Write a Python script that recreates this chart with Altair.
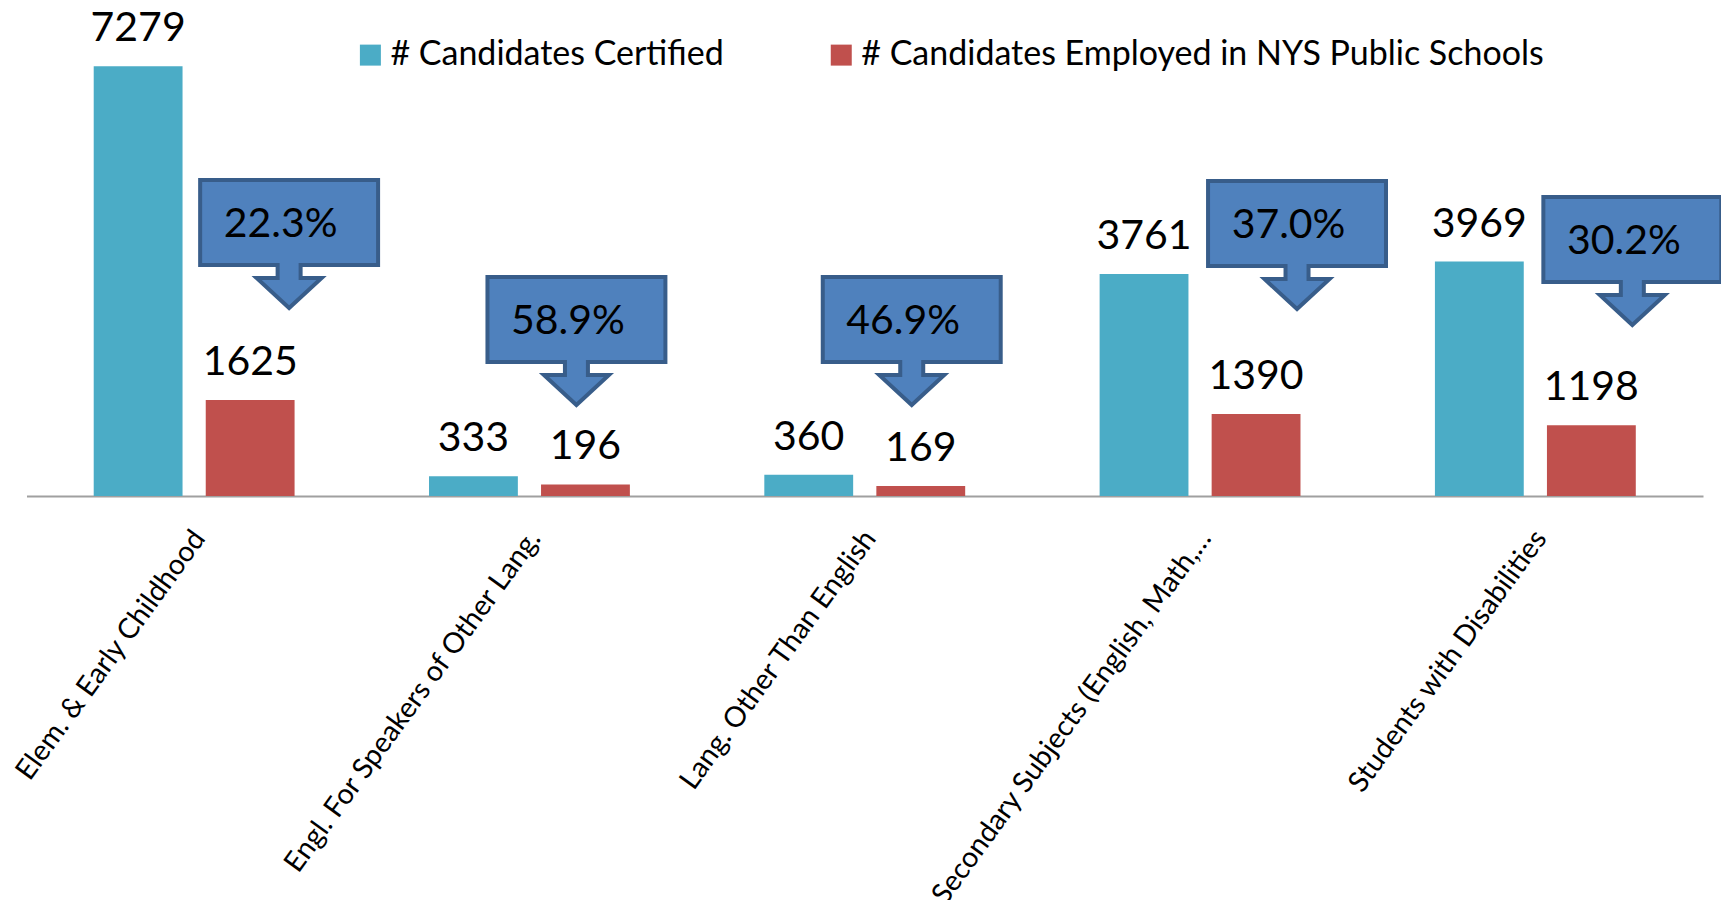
import altair as alt
import pandas as pd

# ---- data ----
categories = [
    "Elem. & Early Childhood",
    "Engl. For Speakers of Other Lang.",
    "Lang. Other Than English",
    "Secondary Subjects (English, Math,…",
    "Students with Disabilities",
]
series = ["# Candidates Certified", "# Candidates Employed in NYS Public Schools"]
certified = [7279, 333, 360, 3761, 3969]
employed = [1625, 196, 169, 1390, 1198]
pct_labels = ["22.3%", "58.9%", "46.9%", "37.0%", "30.2%"]

# ---- styling / annotation layout ----
colors = ["#4BACC6", "#C0504D"]
CALLOUT_FILL = "#4F81BD"
CALLOUT_STROKE = "#385D8A"
callout_dx = [95, 47, 47, 97, 97]      # px offset from category centre
callout_cy = [228, 325, 325, 229, 245]  # px centre of callout shape in plot
R = 89.0  # half-width of callout box (px)

W, H = 1677, 480
YMAX = 8126

rows = []
for c, a, b in zip(categories, certified, employed):
    rows.append({"category": c, "series": series[0], "value": a})
    rows.append({"category": c, "series": series[1], "value": b})
df = pd.DataFrame(rows)


def callout_path(ox):
    pts = [(-89, -64), (89, -64), (89, 21), (11.5, 21), (11.5, 34), (32.5, 34),
           (0, 64), (-32.5, 34), (-11.5, 34), (-11.5, 21), (-89, 21)]
    s = []
    for i, (px, py) in enumerate(pts):
        s.append(("M" if i == 0 else "L") + f"{(px + ox) / R:.4f},{py / R:.4f}")
    return " ".join(s) + " Z"


x_enc = alt.X(
    "category:N",
    sort=categories,
    scale=alt.Scale(paddingInner=0, paddingOuter=0),
    title=None,
    axis=alt.Axis(
        labelAngle=-54,
        labelAlign="right",
        labelBaseline="middle",
        labelFont="Lato",
        labelFontSize=28.5,
        labelColor="black",
        labelPadding=37,
        labelOffset=5,
        labelLimit=0,
        labelOverlap=False,
        ticks=False,
        domainColor="#A0A0A0",
        domainWidth=2,
        grid=False,
    ),
)
x_plain = alt.X("category:N", sort=categories)
xo_enc = alt.XOffset("series:N", sort=series,
                     scale=alt.Scale(paddingInner=0.207, paddingOuter=0.6))
y_enc = alt.Y("value:Q", scale=alt.Scale(domain=[0, YMAX], nice=False), axis=None)

bars = alt.Chart(df).mark_bar().encode(
    x=x_enc,
    xOffset=xo_enc,
    y=y_enc,
    color=alt.Color(
        "series:N",
        sort=series,
        scale=alt.Scale(domain=series, range=colors),
        legend=alt.Legend(
            orient="none",
            legendX=327,
            legendY=22,
            direction="horizontal",
            title=None,
            labelFont="Lato",
            labelFontSize=34,
            labelColor="black",
            symbolType="square",
            symbolSize=441,
            symbolStrokeWidth=0,
            symbolOpacity=1,
            columnPadding=100,
            labelOffset=3,
            padding=0,
            labelLimit=0,
        ),
    ),
)

values = alt.Chart(df).mark_text(
    font="Lato", fontSize=41, dy=-25, baseline="alphabetic", color="black"
).encode(
    x=x_plain,
    xOffset=xo_enc,
    y=y_enc,
    text=alt.Text("value:Q", format="d"),
)

layers = [bars, values]
for i, (cat, pct) in enumerate(zip(categories, pct_labels)):
    d = pd.DataFrame({"category": [cat], "pct": [pct]})
    shape = alt.Chart(d).mark_point(
        shape=callout_path(callout_dx[i]),
        size=(2 * R) ** 2,
        filled=True,
        fill=CALLOUT_FILL,
        stroke=CALLOUT_STROKE,
        strokeWidth=4,
        opacity=1,
        strokeJoin="miter",
    ).encode(x=x_plain, y=alt.value(callout_cy[i]))
    txt = alt.Chart(d).mark_text(
        font="Lato", fontSize=41, baseline="alphabetic", color="black",
        dx=callout_dx[i] - 8.5,
    ).encode(x=x_plain, y=alt.value(callout_cy[i] - 7), text="pct:N")
    layers += [shape, txt]

chart = (
    alt.layer(*layers)
    .properties(
        width=W,
        height=H,
        autosize=alt.AutoSizeParams(type="none"),
        padding={"left": 18.5, "top": 8, "right": 18, "bottom": 404},
    )
    .configure_view(stroke=None)
)

chart.save("out.html", embed_options={"renderer": "svg", "actions": False})
